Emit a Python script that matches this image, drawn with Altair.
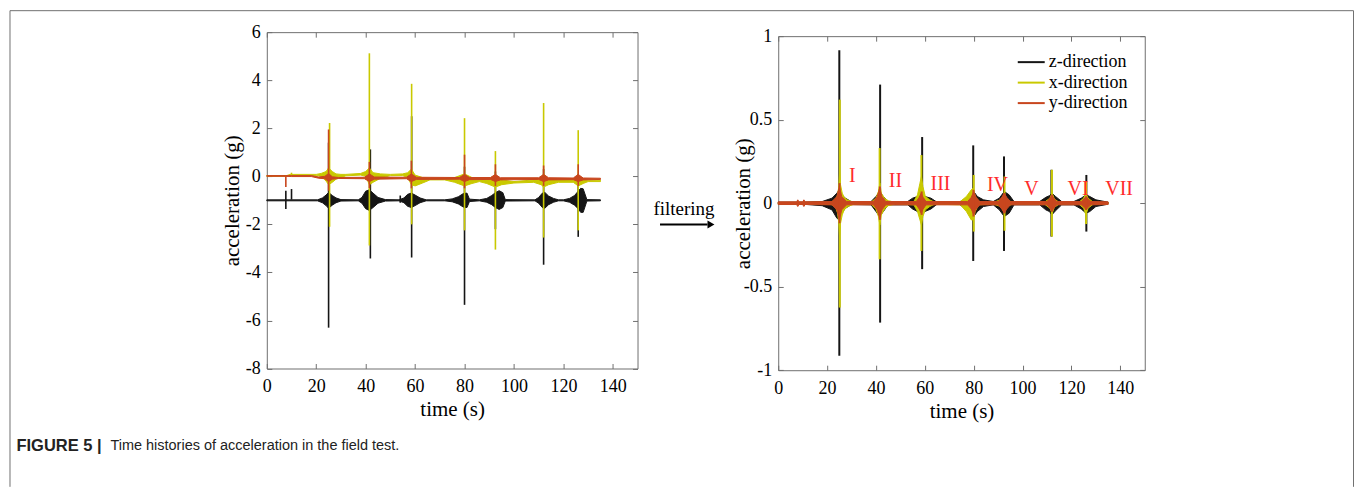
import altair as alt
import pandas as pd

# ---------------- data ----------------
SERIES = ["z-direction", "x-direction", "y-direction"]
COLORS = ["#151515", "#c9c900", "#c8461e"]
X_TICKS = [0, 20, 40, 60, 80, 100, 120, 140]
L_Y_TICKS = [-8, -6, -4, -2, 0, 2, 4, 6]
R_Y_TICKS = [-1, -0.5, 0, 0.5, 1]

# left panel (raw) : envelopes of each trace
LZ_T = [0, 20.5, 22.5, 24, 25, 26.5, 28, 30, 37, 38.5, 40, 41.5, 43, 45, 48, 53.5, 55.5, 57, 58.5, 60, 62, 64.5,
        72, 75, 77.5, 79.5, 81, 82, 86, 89, 91, 92.5, 94, 95.5, 96.5, 108.5, 110, 111.5, 112.5, 114, 116, 118,
        120, 122.5, 124.5, 126, 127, 128, 129.5, 135]
LZ_LO = [-1.02, -1.02, -1.1, -1.22, -1.33, -1.2, -1.1, -1.03, -1.02, -1.12, -1.35, -1.42, -1.3, -1.12, -1.03,
         -1.02, -1.1, -1.25, -1.3, -1.22, -1.1, -1.02, -1.02, -1.06, -1.15, -1.28, -1.3, -1.05,
         -1.02, -1.08, -1.18, -1.3, -1.38, -1.3, -1.03, -1.02, -1.12, -1.3, -1.33, -1.18, -1.08, -1.02,
         -1.02, -1.08, -1.2, -1.35, -1.5, -1.5, -1.03, -1.02]
LZ_HI = [-0.98, -0.98, -0.9, -0.78, -0.67, -0.8, -0.9, -0.97, -0.98, -0.88, -0.62, -0.56, -0.7, -0.88, -0.97,
         -0.98, -0.9, -0.75, -0.7, -0.78, -0.9, -0.98, -0.98, -0.94, -0.85, -0.72, -0.7, -0.95,
         -0.98, -0.92, -0.8, -0.68, -0.6, -0.68, -0.97, -0.98, -0.88, -0.7, -0.67, -0.82, -0.92, -0.98,
         -0.98, -0.92, -0.8, -0.62, -0.5, -0.52, -0.97, -0.98]

LX_T = [0, 8, 9.5, 20, 22, 24, 25, 26.5, 28, 30, 32, 38, 40, 41.5, 43, 46, 50, 55, 57, 58.5, 60, 63, 66, 72,
        76, 80, 83, 86, 89, 92.5, 95, 100, 108, 111, 112, 114, 118, 124, 126, 128, 130, 135]
LX_LO = [0.0, 0.0, 0.04, 0.03, 0.0, -0.2, -0.35, -0.25, -0.12, -0.05, 0.02, 0.05, 0.0, -0.35, -0.25, -0.08,
         0.03, 0.03, -0.05, -0.35, -0.4, -0.28, -0.15, -0.15, -0.25, -0.4, -0.3, -0.22, -0.3, -0.45, -0.35,
         -0.28, -0.25, -0.35, -0.45, -0.35, -0.25, -0.25, -0.4, -0.3, -0.22, -0.22]
LX_HI = [0.03, 0.03, 0.08, 0.08, 0.12, 0.2, 0.35, 0.2, 0.1, 0.08, 0.08, 0.12, 0.2, 0.35, 0.15, 0.1, 0.08, 0.1,
         0.15, 0.3, 0.05, -0.05, -0.08, -0.08, -0.05, 0.1, -0.05, -0.12, -0.15, 0.05, -0.15, -0.22, -0.15,
         -0.1, 0.1, -0.12, -0.15, -0.12, 0.05, -0.12, -0.16, -0.16]

LY_T = [0, 7.5, 10, 18, 21, 23.5, 25, 26.5, 29, 39.5, 41.5, 43.5, 56.5, 58.5, 60.5, 78, 80, 82, 90.5, 92.5,
        94.5, 110, 112, 114, 124, 126, 128, 135]
LY_LO = [0.0, 0.0, -0.01, -0.01, -0.08, -0.1, -0.22, -0.12, -0.09, -0.1, -0.22, -0.12, -0.1, -0.22, -0.13,
         -0.12, -0.22, -0.14, -0.13, -0.22, -0.15, -0.13, -0.22, -0.15, -0.14, -0.22, -0.15, -0.13]
LY_HI = [0.03, 0.03, 0.03, 0.03, -0.03, 0.0, 0.12, -0.02, -0.05, -0.04, 0.1, -0.03, -0.04, 0.1, -0.04,
         -0.05, 0.08, -0.05, -0.05, 0.08, -0.06, -0.06, 0.08, -0.06, -0.07, 0.08, -0.07, -0.08]

# left panel spikes (peak ranges)
LZS_T = [7.7, 10, 25, 41.9, 54, 58.6, 80, 92.5, 112, 126]
LZS_LO = [-1.36, -0.97, -6.3, -3.42, -1.1, -3.38, -5.35, -2.2, -3.68, -2.52]
LZS_HI = [-0.6, -0.53, 1.4, 1.12, -0.8, 2.5, 0.4, 0.2, 0.3, 0.1]
LXS_T = [10, 25.4, 41.5, 58.6, 80, 92.5, 112, 126]
LXS_LO = [0.0, -2.1, -2.88, -2.0, -2.25, -3.05, -2.55, -2.25]
LXS_HI = [0.15, 2.22, 5.12, 3.85, 2.42, 1.05, 3.05, 1.92]
LYS_T = [7.7, 25, 41.5, 58.5, 80, 92.5, 112, 126]
LYS_LO = [-0.45, -0.6, -0.5, -0.5, -0.5, -0.4, -0.4, -0.4]
LYS_HI = [0.0, 1.95, 0.6, 0.65, 0.9, 0.5, 0.45, 0.5]

# right panel (filtered)
RZ_T = [0, 10, 18, 22, 24, 25, 26, 27.5, 30, 38, 40, 41.5, 43, 45, 53, 55, 57, 58.5, 60, 62.5, 65,
        74, 77, 79, 80, 81.5, 84, 88, 90.5, 92.5, 94.5, 96.5, 107, 109.5, 111, 112, 113.5, 116,
        121, 124, 126, 127.5, 130, 135]
RZ_HI = [0.006, 0.006, 0.01, 0.03, 0.06, 0.08, 0.05, 0.03, 0.008, 0.01, 0.04, 0.07, 0.04, 0.01,
         0.01, 0.03, 0.04, 0.06, 0.04, 0.03, 0.006, 0.006, 0.03, 0.05, 0.07, 0.04, 0.02,
         0.01, 0.03, 0.07, 0.05, 0.01, 0.01, 0.035, 0.045, 0.06, 0.04, 0.01,
         0.01, 0.03, 0.05, 0.04, 0.02, 0.006]
RZ_LO = [-0.006, -0.006, -0.015, -0.04, -0.09, -0.1, -0.06, -0.03, -0.008, -0.01, -0.05, -0.08, -0.05, -0.01,
         -0.01, -0.035, -0.05, -0.07, -0.05, -0.035, -0.006, -0.006, -0.035, -0.06, -0.08, -0.05, -0.02,
         -0.01, -0.04, -0.08, -0.06, -0.01, -0.01, -0.04, -0.05, -0.07, -0.045, -0.01,
         -0.01, -0.035, -0.06, -0.05, -0.02, -0.006]

RX_T = [0, 21.5, 23.5, 24.3, 24.8, 25.1, 25.5, 26.2, 27, 28.5, 31,
        38, 40, 41, 41.6, 42.2, 43.5, 45, 48,
        55.5, 57, 58, 58.6, 59.2, 60.2, 62, 64,
        74.5, 77, 79, 79.8, 80.6, 82,
        88, 91, 92.3, 93.5, 96,
        109, 111.2, 112.1, 113, 115,
        123, 125, 125.9, 126.8, 129, 135]
RX_HI = [0.004, 0.006, 0.02, 0.05, 0.1, 0.18, 0.11, 0.06, 0.035, 0.018, 0.006,
         0.006, 0.03, 0.07, 0.12, 0.06, 0.03, 0.015, 0.005,
         0.01, 0.05, 0.12, 0.16, 0.1, 0.04, 0.02, 0.006,
         0.01, 0.04, 0.08, 0.09, 0.04, 0.01,
         0.005, 0.02, 0.05, 0.02, 0.005,
         0.006, 0.03, 0.06, 0.025, 0.005,
         0.005, 0.03, 0.06, 0.03, 0.005, 0.004]
RX_LO = [-0.004, -0.006, -0.025, -0.06, -0.12, -0.2, -0.12, -0.07, -0.04, -0.02, -0.006,
         -0.006, -0.035, -0.08, -0.13, -0.07, -0.035, -0.015, -0.005,
         -0.01, -0.05, -0.1, -0.13, -0.08, -0.04, -0.02, -0.006,
         -0.01, -0.05, -0.1, -0.1, -0.05, -0.01,
         -0.005, -0.02, -0.05, -0.02, -0.005,
         -0.006, -0.03, -0.06, -0.025, -0.005,
         -0.005, -0.03, -0.07, -0.03, -0.005, -0.004]

RY_T = [0, 7.5, 8, 8.5, 10, 10.5, 11, 22, 24, 25, 26, 28, 39, 40.5, 41.5, 42.5, 44, 56.5, 57.7, 58.5, 59.3,
        60.5, 77.5, 79, 80, 81, 82.5, 90, 91.5, 92.5, 93.5, 95, 110, 111.2, 112, 112.8, 114, 124, 125.2,
        126, 126.8, 128, 135]
RY_HI = [0.008, 0.008, 0.02, 0.008, 0.008, 0.02, 0.008, 0.01, 0.04, 0.1, 0.04, 0.01, 0.01, 0.04, 0.09,
         0.04, 0.01, 0.01, 0.035, 0.06, 0.035, 0.01, 0.01, 0.035, 0.07, 0.035, 0.01, 0.01, 0.035, 0.06,
         0.035, 0.01, 0.01, 0.03, 0.05, 0.03, 0.01, 0.01, 0.025, 0.04, 0.025, 0.01, 0.008]
RY_LO = [-0.008, -0.008, -0.02, -0.008, -0.008, -0.02, -0.008, -0.01, -0.04, -0.1, -0.04, -0.01, -0.01,
         -0.04, -0.09, -0.04, -0.01, -0.01, -0.035, -0.06, -0.035, -0.01, -0.01, -0.035, -0.07, -0.035,
         -0.01, -0.01, -0.035, -0.06, -0.035, -0.01, -0.01, -0.03, -0.05, -0.03, -0.01, -0.01, -0.025,
         -0.04, -0.025, -0.01, -0.008]

RZS_T = [25, 41.7, 58.9, 79.8, 92.4, 111.8, 126.1]
RZS_LO = [-0.914, -0.715, -0.395, -0.346, -0.286, -0.2, -0.17]
RZS_HI = [0.915, 0.71, 0.396, 0.346, 0.28, 0.2, 0.169]
RXS_T = [25.2, 41.5, 58.6, 80.0, 92.6, 112.0, 126.0]
RXS_LO = [-0.625, -0.336, -0.286, -0.17, -0.165, -0.2, -0.125]
RXS_HI = [0.62, 0.33, 0.288, 0.169, 0.16, 0.2, 0.13]
RYS_T = [25.1, 41.6, 58.7, 79.9, 92.5, 112.0, 126.0]
RYS_LO = [-0.12, -0.1, -0.07, -0.08, -0.06, -0.05, -0.04]
RYS_HI = [0.12, 0.1, 0.07, 0.08, 0.06, 0.05, 0.04]

ROMAN = ["I", "II", "III", "IV", "V", "VI", "VII"]
ROMAN_T = [30.3, 48, 66.4, 89.7, 103.6, 122.7, 139.5]
ROMAN_V = [0.163, 0.133, 0.117, 0.109, 0.087, 0.083, 0.087]

# ---------------- styling ----------------
SERIF = "Liberation Serif"
SANS = "Liberation Sans"
GRAY = "#6f6f6f"


def frame(t, lo, hi, name):
    return pd.DataFrame({"t": t, "lo": lo, "hi": hi, "s": name})


def ax_bottom():
    return alt.Axis(orient="bottom", values=X_TICKS, offset=-5, domain=False, tickSize=5, tickColor=GRAY,
                    tickWidth=1, labelFont=SERIF, labelFontSize=18, labelColor="black", labelPadding=9.5,
                    labelFlush=False, labelExpr="'' + datum.value", title="time (s)", titleFont=SERIF,
                    titleFontSize=21, titleFontWeight="normal", titleColor="black", titleBaseline="middle",
                    titleY=46)


def ax_left(vals, tx):
    return alt.Axis(orient="left", values=vals, offset=-5, domain=False, tickSize=5, tickColor=GRAY,
                    tickWidth=1, labelFont=SERIF, labelFontSize=18, labelColor="black", labelPadding=6.5,
                    labelExpr="'' + datum.value", title="acceleration (g)", titleFont=SERIF,
                    titleFontSize=21, titleFontWeight="normal", titleColor="black", titleBaseline="middle",
                    titleX=tx)


def ax_top():
    return alt.Axis(orient="top", values=X_TICKS, offset=-5, domain=False, tickSize=5, tickColor=GRAY,
                    tickWidth=1, labels=False, title="")


def ax_right(vals):
    return alt.Axis(orient="right", values=vals, offset=-5, domain=False, tickSize=5, tickColor=GRAY,
                    tickWidth=1, labels=False, title="")


def panel(bands, spikes, ydom, yticks, title_x, spike_w, legend):
    xs = alt.Scale(domain=[0, 150], nice=False, zero=False)
    ys = alt.Scale(domain=ydom, nice=False, zero=False)
    cs = alt.Scale(domain=SERIES, range=COLORS)
    layers = []
    for i in range(3):
        c = COLORS[i]
        bx = ax_bottom() if i == 0 else None
        by = ax_left(yticks, title_x) if i == 0 else None
        layers.append(
            alt.Chart(bands[i]).mark_area(color=c, stroke=c, strokeWidth=1, opacity=1).encode(
                x=alt.X("t:Q", scale=xs, axis=bx),
                y=alt.Y("hi:Q", scale=ys, axis=by),
                y2="lo:Q",
            )
        )
        sx = ax_top() if i == 0 else None
        sy = ax_right(yticks) if i == 0 else None
        if legend is None:
            col = alt.value(c)
        else:
            col = alt.Color("s:N", scale=cs, legend=legend)
        layers.append(
            alt.Chart(spikes[i]).mark_rule(strokeWidth=spike_w).encode(
                x=alt.X("t:Q", scale=xs, axis=sx),
                y=alt.Y("lo:Q", scale=ys, axis=sy),
                y2="hi:Q",
                color=col,
            )
        )
    return layers, xs, ys


one = pd.DataFrame({"a": [0]})

# ---------- left panel ----------
l_bands = [frame(LZ_T, LZ_LO, LZ_HI, SERIES[0]), frame(LX_T, LX_LO, LX_HI, SERIES[1]),
           frame(LY_T, LY_LO, LY_HI, SERIES[2])]
l_spikes = [frame(LZS_T, LZS_LO, LZS_HI, SERIES[0]), frame(LXS_T, LXS_LO, LXS_HI, SERIES[1]),
            frame(LYS_T, LYS_LO, LYS_HI, SERIES[2])]
l_layers, _, _ = panel(l_bands, l_spikes, [-8, 6], L_Y_TICKS, -39, 1.6, None)

# figure frame, caption and the "filtering" arrow (decoration, pixel placed)
deco = [
    alt.Chart(one).mark_rule(color="#707070", strokeWidth=1).encode(
        x=alt.value(-257), x2=alt.value(1087.5), y=alt.value(-21.5)),
    alt.Chart(one).mark_rule(color="#707070", strokeWidth=1).encode(
        x=alt.value(-257), y=alt.value(-21.5), y2=alt.value(455)),
    alt.Chart(one).mark_rule(color="#707070", strokeWidth=1).encode(
        x=alt.value(1087.5), y=alt.value(-21.5), y2=alt.value(455)),
    alt.Chart(one).mark_text(align="left", baseline="middle", font=SANS, fontSize=16.5, fontWeight="bold",
                             color="#222222", text="FIGURE 5 |").encode(x=alt.value(-250.5), y=alt.value(414)),
    alt.Chart(one).mark_text(align="left", baseline="middle", font=SANS, fontSize=14.5, color="#222222",
                             text="Time histories of acceleration in the field test.").encode(
        x=alt.value(-156.5), y=alt.value(414.5)),
    alt.Chart(one).mark_text(align="center", baseline="alphabetic", font=SERIF, fontSize=19, color="black",
                             text="filtering").encode(x=alt.value(417.5), y=alt.value(182.5)),
    alt.Chart(one).mark_rule(color="black", strokeWidth=1.8).encode(
        x=alt.value(393.5), x2=alt.value(441), y=alt.value(192.5)),
    alt.Chart(one).mark_point(shape="triangle-right", filled=True, size=64, color="black", opacity=1).encode(
        x=alt.value(444.5), y=alt.value(192.5)),
]

left = alt.layer(*l_layers, *deco).resolve_axis(x="independent", y="independent").properties(
    width=371, height=336.6)

# ---------- right panel ----------
r_bands = [frame(RZ_T, RZ_LO, RZ_HI, SERIES[0]), frame(RX_T, RX_LO, RX_HI, SERIES[1]),
           frame(RY_T, RY_LO, RY_HI, SERIES[2])]
r_spikes = [frame(RZS_T, RZS_LO, RZS_HI, SERIES[0]), frame(RXS_T, RXS_LO, RXS_HI, SERIES[1]),
            frame(RYS_T, RYS_LO, RYS_HI, SERIES[2])]
legend = alt.Legend(title=None, orient="none", legendX=756, legendY=21, padding=0,
                    symbolType="M-2,0H2", symbolSize=182, symbolStrokeWidth=2, labelFont=SERIF,
                    labelFontSize=18, labelColor="black", labelOffset=8.5, rowPadding=2.5)
r_layers, rxs, rys = panel(r_bands, r_spikes, [-1, 1], R_Y_TICKS, -40, 2, legend)

roman_df = pd.DataFrame({"t": ROMAN_T, "v": ROMAN_V, "lab": ROMAN})
roman = alt.Chart(roman_df).mark_text(font=SERIF, fontSize=20, color="#ff2b2b", align="center",
                                      baseline="middle").encode(
    x=alt.X("t:Q", scale=rxs, axis=None),
    y=alt.Y("v:Q", scale=rys, axis=None),
    text="lab:N",
)

right = alt.layer(*r_layers, roman).resolve_axis(x="independent", y="independent").properties(
    width=366.8, height=334.3)

spacer = alt.Chart(one).mark_point(opacity=0).properties(
    width=10, height=4, view=alt.ViewBackground(stroke="transparent"))

rcol = alt.vconcat(spacer, right, spacing=0, bounds="flush")

chart = alt.hconcat(left, rcol, spacing=140.8, bounds="flush").properties(
    padding={"left": 9, "top": 9, "right": 0, "bottom": 0},
    background="white",
).configure_view(stroke=GRAY, strokeWidth=1).configure_axis(grid=False)

chart.save("out.html", embed_options={"renderer": "svg", "actions": False})
